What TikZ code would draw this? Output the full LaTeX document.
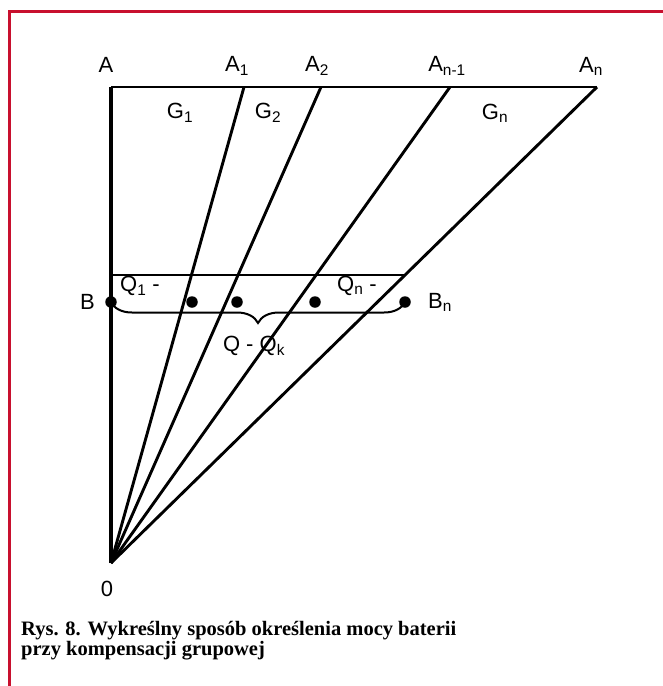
\documentclass[tikz,border=0pt]{standalone}
\usepackage{fontspec}
\setmainfont{Liberation Serif}
\newfontfamily\labelfont{Liberation Sans}
\usetikzlibrary{decorations.pathreplacing,positioning}
\definecolor{frame}{RGB}{200,16,46}

\begin{document}
\begin{tikzpicture}[x=1pt,y=-1pt,
  lbl/.style={font=\labelfont\fontsize{22}{25}\selectfont, inner sep=0pt},
  ray/.style={line width=2.9pt},
  dot/.style={circle, fill=black, inner sep=0pt, minimum size=11.5pt}]
\useasboundingbox (0,0) rectangle (663,686);
% ramka
\draw[frame, line width=3pt] (9,686) -- (9,11) -- (663,11);

% punkty
\coordinate (O) at (111,563);
\coordinate (A) at (111,87);
\coordinate (A1) at (244,87);
\coordinate (A2) at (321,87);
\coordinate (An1) at (450,87);
\coordinate (An) at (597,87);
\coordinate (Q1) at (111,275);
\coordinate (Qn) at (405,275);

% proste
\draw[ray, line width=3.2pt] (O) -- (A);
\draw[ray] (A) -- (An);
\foreach \p in {A1,A2,An1,An} {
    \draw[ray] (O) -- (\p);
}
\draw[ray] (Q1) -- (Qn);

% opisy
\node[lbl] (lA) at (106,65) {A};
\node[lbl] (lA1) at (237,66) {A\textsubscript{1}};
\node[lbl] (lA2) at (317,66) {A\textsubscript{2}};
\node[lbl] (lAn1) at (447,66) {A\textsubscript{n-1}};
\node[lbl] (lAn) at (591,66) {A\textsubscript{n}};
\node[lbl] (lG1) at (180,113) {G\textsubscript{1}};
\node[lbl] (lG2) at (268,113) {G\textsubscript{2}};
\node[lbl] (lGn) at (495,113) {G\textsubscript{n}};
\node[lbl] (lQ1) at (140,286) {Q\textsubscript{1} -};
\node[lbl] (lQn) at (357,286) {Q\textsubscript{n} -};
\node[lbl] (l0) at (107,589) {0};

% baterie
\node[dot] (B) at (111,302) {};
\foreach \x/\n in {192/b1,237/b2,315/b3} {
    \node[dot] (\n) at (\x,302) {};
}
\node[dot] (Bn) at (405,302) {};
\node[lbl, left=10pt of B] (lB) {B};
\node[lbl, right=17pt of Bn] (lBn) {B\textsubscript{n}};
\draw[line width=2pt, decorate,
      decoration={brace, mirror, amplitude=21pt}]
  (B.center) -- (Bn.center);
\node[lbl] (lQk) at (254,346) {Q - Q\textsubscript{k}};

% podpis
\node[anchor=north west, align=left, inner sep=0pt,
      font=\bfseries\fontsize{20.5}{20}\selectfont] (cap) at (21,621)
  {Rys. 8. Wykreślny sposób określenia mocy baterii\\przy kompensacji grupowej};
\end{tikzpicture}
\end{document}
